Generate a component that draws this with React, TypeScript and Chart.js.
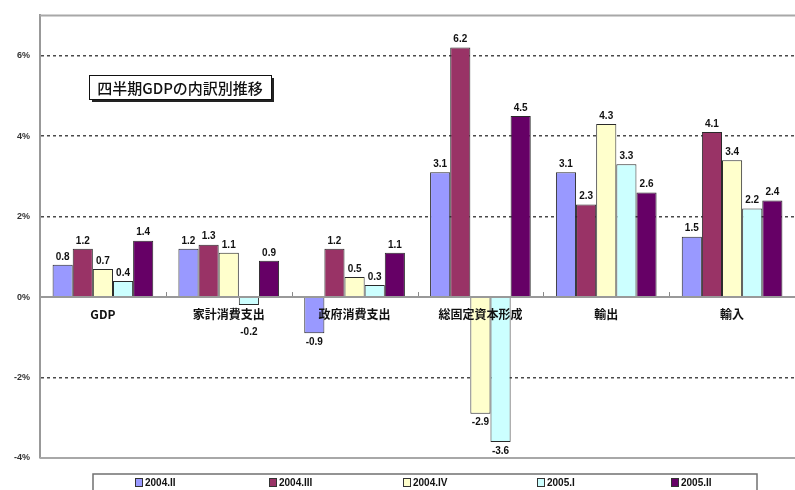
import React, { useEffect, useRef } from "react";
import { Chart, registerables } from "chart.js";

Chart.register(...registerables);

// Quarter-on-quarter change (%) by GDP component
const categories = ["GDP", "家計消費支出", "政府消費支出", "総固定資本形成", "輸出", "輸入"];
const seriesNames = ["2004.II", "2004.III", "2004.IV", "2005.I", "2005.II"];
const q2004II = [0.8, 1.2, -0.9, 3.1, 3.1, 1.5];
const q2004III = [1.2, 1.3, 1.2, 6.2, 2.3, 4.1];
const q2004IV = [0.7, 1.1, 0.5, -2.9, 4.3, 3.4];
const q2005I = [0.4, -0.2, 0.3, -3.6, 3.3, 2.2];
const q2005II = [1.4, 0.9, 1.1, 4.5, 2.6, 2.4];
const yTicks = [-4, -2, 0, 2, 4, 6];
const dashedTicks = [-2, 2, 4, 6];
const chartTitle = "四半期GDPの内訳別推移";

const seriesValues = [q2004II, q2004III, q2004IV, q2005I, q2005II];
const seriesColors = ["#9999FF", "#993366", "#FFFFCC", "#CCFFFF", "#660066"];

const JP_FONT = '"Noto Sans CJK JP", "Noto Sans", sans-serif';
const NUM_FONT = '"Liberation Sans", Arial, sans-serif';

// Plot frame lines and small inside tick marks between categories
const framePlugin = {
  id: "frame",
  afterDatasetsDraw(chart: any) {
    const { ctx, chartArea, scales } = chart;
    const x = scales.x;
    const y = scales.y;
    ctx.save();
    ctx.strokeStyle = "#a8a8a8";
    ctx.lineWidth = 2;
    ctx.beginPath();
    ctx.moveTo(chartArea.left, chartArea.top);
    ctx.lineTo(chartArea.right, chartArea.top);
    ctx.moveTo(chartArea.left, chartArea.bottom);
    ctx.lineTo(chartArea.right, chartArea.bottom);
    ctx.stroke();
    // tick marks on the zero line
    const y0 = y.getPixelForValue(0);
    ctx.strokeStyle = "#888";
    ctx.lineWidth = 1;
    ctx.beginPath();
    for (let i = 0; i < categories.length - 1; i++) {
      const bx = Math.round((x.getPixelForValue(i) + x.getPixelForValue(i + 1)) / 2) + 0.5;
      ctx.moveTo(bx, y0 - 5);
      ctx.lineTo(bx, y0);
    }
    ctx.stroke();
    ctx.restore();
  },
};

// Value labels above positive bars and below negative ones
// (negative labels are kept clear of the category names under the zero line)
const valueLabelPlugin = {
  id: "valueLabels",
  afterDraw(chart: any) {
    const { ctx } = chart;
    const y0 = chart.scales.y.getPixelForValue(0);
    ctx.save();
    ctx.font = `bold 10px ${NUM_FONT}`;
    ctx.fillStyle = "#111";
    ctx.textAlign = "center";
    chart.data.datasets.forEach((ds: any, di: number) => {
      const meta = chart.getDatasetMeta(di);
      meta.data.forEach((bar: any, i: number) => {
        const v = ds.data[i] as number;
        const text = v.toFixed(1);
        if (v >= 0) {
          ctx.textBaseline = "bottom";
          ctx.fillText(text, bar.x, bar.y - 3);
        } else {
          ctx.textBaseline = "top";
          ctx.fillText(text, bar.x, Math.max(bar.y + 4, y0 + 30));
        }
      });
    });
    ctx.restore();
  },
};

// Boxed title with drop shadow, and the boxed legend along the bottom
const decorPlugin = {
  id: "decor",
  afterDraw(chart: any) {
    const { ctx } = chart;
    ctx.save();
    // title box
    const tx = 89, ty = 75, tw = 182, th = 24;
    ctx.fillStyle = "#222";
    ctx.fillRect(tx + 3, ty + 3, tw, th);
    ctx.fillStyle = "#fff";
    ctx.fillRect(tx, ty, tw, th);
    ctx.strokeStyle = "#111";
    ctx.lineWidth = 1;
    ctx.strokeRect(tx + 0.5, ty + 0.5, tw, th);
    ctx.fillStyle = "#111";
    ctx.font = `500 15px ${JP_FONT}`;
    ctx.textAlign = "center";
    ctx.textBaseline = "middle";
    ctx.fillText(chartTitle, tx + tw / 2, ty + th / 2 + 1);

    // legend box
    const lx = 93, ly = 474, lw = 664, lh = 22;
    ctx.strokeStyle = "#707070";
    ctx.lineWidth = 1.5;
    ctx.strokeRect(lx, ly, lw, lh);
    ctx.font = `bold 10px ${NUM_FONT}`;
    ctx.textAlign = "left";
    ctx.textBaseline = "middle";
    const step = 134;
    seriesNames.forEach((name, i) => {
      const mx = 135 + i * step;
      const my = 478;
      ctx.fillStyle = seriesColors[i];
      ctx.fillRect(mx, my, 7, 8);
      ctx.strokeStyle = "#333";
      ctx.lineWidth = 1;
      ctx.strokeRect(mx + 0.5, my + 0.5, 7, 8);
      ctx.fillStyle = "#111";
      ctx.fillText(name, mx + 10, 483);
    });
    ctx.restore();
  },
};

export default function App() {
  const canvasRef = useRef<HTMLCanvasElement | null>(null);

  useEffect(() => {
    const canvas = canvasRef.current;
    if (!canvas) return;
    const chart = new Chart(canvas, {
      type: "bar",
      data: {
        labels: categories,
        datasets: seriesNames.map((name, i) => ({
          label: name,
          data: seriesValues[i],
          backgroundColor: seriesColors[i],
          borderColor: "#2a2a2a",
          borderWidth: 1,
          categoryPercentage: 0.8,
          barPercentage: 1.0,
        })),
      },
      options: {
        responsive: false,
        animation: false,
        events: [],
        layout: { padding: { top: 12, bottom: 32, left: 0, right: 0 } },
        plugins: {
          legend: { display: false },
          tooltip: { enabled: false },
          title: { display: false },
        },
        scales: {
          x: {
            position: { y: 0 } as any,
            offset: true,
            grid: { display: false, drawTicks: false },
            border: { display: true, color: "#999", width: 2, z: 1 },
            ticks: {
              z: 1,
              padding: 10,
              color: "#111",
              font: { family: JP_FONT, size: 12, weight: "bold" },
              maxRotation: 0,
              autoSkip: false,
            },
          },
          y: {
            min: -4,
            max: 7,
            afterBuildTicks: (scale: any) => {
              scale.ticks = yTicks.map((v) => ({ value: v }));
            },
            afterFit: (scale: any) => {
              scale.width = 40;
            },
            grid: {
              drawTicks: false,
              lineWidth: 1.5,
              color: (c: any) =>
                c.tick && dashedTicks.includes(c.tick.value) ? "#4a4a4a" : "rgba(0,0,0,0)",
            },
            border: { display: true, color: "#999", width: 2, dash: [3, 3] },
            ticks: {
              padding: 10,
              color: "#333",
              font: { family: NUM_FONT, size: 9, weight: "bold" },
              callback: (v: any) => `${v}%`,
            },
          },
        },
      },
      plugins: [framePlugin, valueLabelPlugin, decorPlugin],
    });
    return () => chart.destroy();
  }, []);

  return (
    <div style={{ position: "fixed", left: 0, top: 0, width: 795, height: 490, background: "#fff" }}>
      <canvas ref={canvasRef} width={795} height={490} style={{ display: "block" }} />
    </div>
  );
}
